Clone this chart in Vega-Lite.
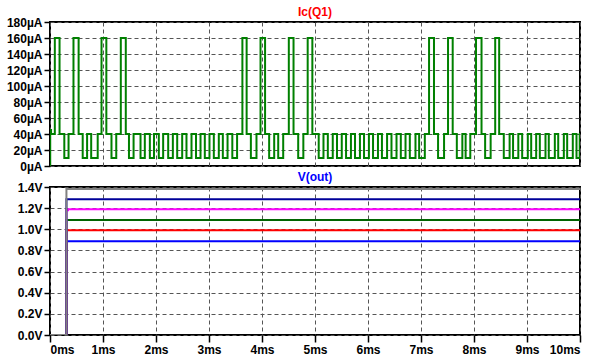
{
  "$schema": "https://vega.github.io/schema/vega-lite/v6.json",
  "background": "white",
  "padding": {"left": 5, "top": 5, "right": 5, "bottom": 5},
  "spacing": 21,
  "bounds": "flush",
  "datasets": {
    "ic": [
      {"t": 0, "i": 0}, {"t": 0.004, "i": 45}, {"t": 0.02, "i": 40},
      {"t": 0.091, "i": 160}, {"t": 0.18, "i": 40}, {"t": 0.27, "i": 10}, {"t": 0.35, "i": 40},
      {"t": 0.443, "i": 160}, {"t": 0.54, "i": 40}, {"t": 0.617, "i": 10}, {"t": 0.7, "i": 40},
      {"t": 0.777, "i": 10}, {"t": 0.9, "i": 40}, {"t": 0.972, "i": 160}, {"t": 1.063, "i": 40},
      {"t": 1.16, "i": 10}, {"t": 1.25, "i": 40}, {"t": 1.336, "i": 160}, {"t": 1.43, "i": 40},
      {"t": 1.49, "i": 10}, {"t": 1.577, "i": 40},
      {"t": 1.708, "i": 10}, {"t": 1.789, "i": 40},
      {"t": 1.884, "i": 10}, {"t": 1.962, "i": 40},
      {"t": 2.053, "i": 10}, {"t": 2.135, "i": 40},
      {"t": 2.23, "i": 10}, {"t": 2.318, "i": 40},
      {"t": 2.4, "i": 10}, {"t": 2.494, "i": 40},
      {"t": 2.575, "i": 10}, {"t": 2.67, "i": 40},
      {"t": 2.755, "i": 10}, {"t": 2.84, "i": 40},
      {"t": 2.921, "i": 10}, {"t": 3.009, "i": 40},
      {"t": 3.091, "i": 10}, {"t": 3.185, "i": 40},
      {"t": 3.261, "i": 10}, {"t": 3.35, "i": 40},
      {"t": 3.44, "i": 10}, {"t": 3.53, "i": 40},
      {"t": 3.63, "i": 160}, {"t": 3.71, "i": 40},
      {"t": 3.79, "i": 10}, {"t": 3.896, "i": 40},
      {"t": 3.972, "i": 160}, {"t": 4.058, "i": 40},
      {"t": 4.135, "i": 10}, {"t": 4.23, "i": 40},
      {"t": 4.306, "i": 10}, {"t": 4.4, "i": 40},
      {"t": 4.506, "i": 160}, {"t": 4.595, "i": 40},
      {"t": 4.683, "i": 10}, {"t": 4.78, "i": 40},
      {"t": 4.862, "i": 160}, {"t": 4.95, "i": 40},
      {"t": 5.07, "i": 10}, {"t": 5.16, "i": 40},
      {"t": 5.242, "i": 10}, {"t": 5.335, "i": 40},
      {"t": 5.415, "i": 10}, {"t": 5.505, "i": 40},
      {"t": 5.586, "i": 10}, {"t": 5.678, "i": 40},
      {"t": 5.755, "i": 10}, {"t": 5.848, "i": 40},
      {"t": 5.925, "i": 10}, {"t": 6.017, "i": 40},
      {"t": 6.095, "i": 10}, {"t": 6.188, "i": 40},
      {"t": 6.263, "i": 10}, {"t": 6.36, "i": 40},
      {"t": 6.443, "i": 10}, {"t": 6.538, "i": 40},
      {"t": 6.619, "i": 10}, {"t": 6.708, "i": 40},
      {"t": 6.789, "i": 10}, {"t": 6.896, "i": 40},
      {"t": 6.965, "i": 10}, {"t": 7.072, "i": 40},
      {"t": 7.152, "i": 160}, {"t": 7.245, "i": 40},
      {"t": 7.322, "i": 10}, {"t": 7.435, "i": 40},
      {"t": 7.51, "i": 160}, {"t": 7.598, "i": 40},
      {"t": 7.676, "i": 10}, {"t": 7.78, "i": 40},
      {"t": 7.842, "i": 10}, {"t": 7.93, "i": 40},
      {"t": 8.038, "i": 160}, {"t": 8.142, "i": 40},
      {"t": 8.21, "i": 10}, {"t": 8.314, "i": 40},
      {"t": 8.4, "i": 160}, {"t": 8.475, "i": 40},
      {"t": 8.562, "i": 10}, {"t": 8.672, "i": 40},
      {"t": 8.737, "i": 10}, {"t": 8.836, "i": 40},
      {"t": 8.909, "i": 10}, {"t": 9.015, "i": 40},
      {"t": 9.079, "i": 10}, {"t": 9.173, "i": 40},
      {"t": 9.242, "i": 10}, {"t": 9.349, "i": 40},
      {"t": 9.411, "i": 10}, {"t": 9.525, "i": 40},
      {"t": 9.589, "i": 10}, {"t": 9.695, "i": 40},
      {"t": 9.758, "i": 10}, {"t": 9.864, "i": 40},
      {"t": 9.934, "i": 10}, {"t": 9.995, "i": 40}, {"t": 10, "i": 40}
    ],
    "vout": [
      {"s": "blue", "t": 0, "v": 0}, {"s": "blue", "t": 0.31, "v": 0.887}, {"s": "blue", "t": 10, "v": 0.887},
      {"s": "red", "t": 0, "v": 0}, {"s": "red", "t": 0.31, "v": 0.99}, {"s": "red", "t": 10, "v": 0.99},
      {"s": "green", "t": 0, "v": 0}, {"s": "green", "t": 0.31, "v": 1.087}, {"s": "green", "t": 10, "v": 1.087},
      {"s": "magenta", "t": 0, "v": 0}, {"s": "magenta", "t": 0.31, "v": 1.18}, {"s": "magenta", "t": 0.34, "v": 1.19}, {"s": "magenta", "t": 10, "v": 1.19},
      {"s": "navy", "t": 0, "v": 0}, {"s": "navy", "t": 0.31, "v": 1.285}, {"s": "navy", "t": 10, "v": 1.285},
      {"s": "gray", "t": 0, "v": 0}, {"s": "gray", "t": 0.31, "v": 1.38}, {"s": "gray", "t": 10, "v": 1.38}
    ]
  },
  "config": {
    "view": {"stroke": "black", "strokeWidth": 2},
    "axis": {
      "labelFont": "Liberation Sans", "labelFontWeight": "bold", "labelFontSize": 12, "labelColor": "black",
      "tickColor": "black", "tickWidth": 1.5, "tickSize": 6, "labelPadding": 2,
      "domain": false, "grid": true, "gridColor": "#555555", "gridDash": [4, 3], "gridWidth": 1, "title": null
    },
    "title": {"font": "Liberation Sans", "fontWeight": "bold", "fontSize": 12, "offset": -3}
  },
  "vconcat": [
    {
      "width": 530, "height": 144,
      "title": {"text": "Ic(Q1)", "color": "#ff0000"},
      "data": {"name": "ic"},
      "mark": {"type": "line", "interpolate": "step-after", "color": "#008000", "strokeWidth": 2, "clip": true},
      "encoding": {
        "x": {"field": "t", "type": "quantitative", "scale": {"domain": [0, 10], "nice": false},
              "axis": {"labels": false, "ticks": false, "values": [0, 1, 2, 3, 4, 5, 6, 7, 8, 9, 10]}},
        "y": {"field": "i", "type": "quantitative", "scale": {"domain": [0, 180], "nice": false},
              "axis": {"values": [0, 20, 40, 60, 80, 100, 120, 140, 160, 180], "labelExpr": "datum.value + 'µA'"}}
      }
    },
    {
      "width": 530, "height": 148,
      "title": {"text": "V(out)", "color": "#0000ff"},
      "data": {"name": "vout"},
      "encoding": {
        "x": {"field": "t", "type": "quantitative", "scale": {"domain": [0, 10], "nice": false},
              "axis": {"values": [0, 1, 2, 3, 4, 5, 6, 7, 8, 9, 10], "labelExpr": "datum.value + 'ms'", "tickSize": 7, "labelPadding": 2}},
        "y": {"field": "v", "type": "quantitative", "scale": {"domain": [0, 1.4], "nice": false},
              "axis": {"values": [0, 0.2, 0.4, 0.6, 0.8, 1.0, 1.2, 1.4], "labelExpr": "format(datum.value, '.1f') + 'V'"}}
      },
      "layer": [
        {
          "transform": [{"filter": "datum.s != 'gray'"}],
          "mark": {"type": "line", "interpolate": "step-after", "strokeWidth": 2, "clip": true},
          "encoding": {
            "color": {"field": "s", "type": "nominal", "legend": null,
                      "scale": {"domain": ["blue", "red", "green", "magenta", "navy"], "range": ["#0000ff", "#ff0000", "#006400", "#ff00ff", "#000099"]}}
          }
        },
        {
          "transform": [{"filter": "datum.s == 'gray'"}],
          "mark": {"type": "line", "interpolate": "step-after", "strokeWidth": 2, "color": "#808080", "clip": true},
          "encoding": {}
        }
      ]
    }
  ]
}
